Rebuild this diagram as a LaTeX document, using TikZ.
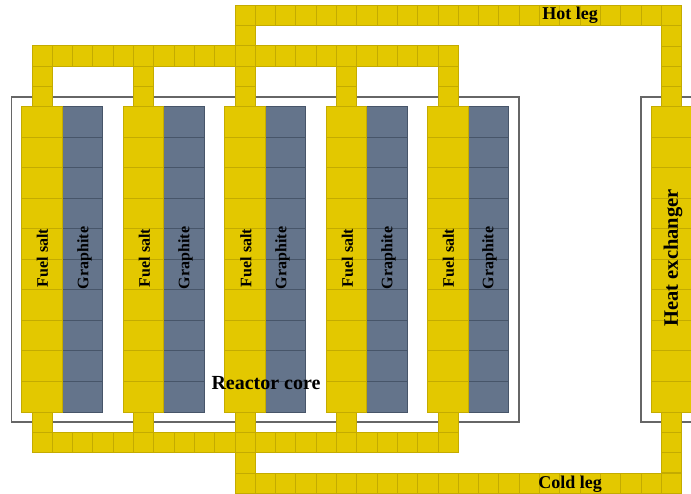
\documentclass[tikz,border=0pt]{standalone}
\usepackage{fontspec}
\setmainfont{Liberation Serif}
\tikzset{
  pipecell/.style={draw=pipeedge, fill=pipefill, line width=1pt},
  saltcell/.style={draw=pipeedge, fill=pipefill, line width=1pt},
  graphcell/.style={draw=graphedge, fill=graphfill, line width=1pt},
  housing/.style={draw=black!60, line width=1.2pt},
  smalllabel/.style={font=\fontsize{16}{17}\selectfont\bfseries, rotate=90, inner sep=0pt},
  leglabel/.style={font=\fontsize{18}{19}\selectfont\bfseries, inner sep=0pt}
}
\definecolor{pipefill}{HTML}{E3C800}
\definecolor{pipeedge}{HTML}{C4AB00}
\definecolor{graphfill}{HTML}{64748B}
\definecolor{graphedge}{HTML}{475569}
\begin{document}
\begin{tikzpicture}[x=1pt, y=-1pt]
    \useasboundingbox (0,0) rectangle (691,494);
    \clip (0,0) rectangle (691,494);

    % --- Housings ---
    \draw [housing] (11.5,97) rectangle (519,422);
    \draw [housing] (641,97) rectangle (720,422);

    % --- Hot leg and cold leg ---
    \foreach \i in {0,...,21} {
        \draw [pipecell] ({235+20.3*\i},5.5) rectangle ++(20.3,20.3);
        \draw [pipecell] ({235+20.3*\i},473) rectangle ++(20.3,20.3);
    }
    \foreach \i in {0,...,3}
        \draw [pipecell] (661.6,{25.8+20.3*\i}) rectangle ++(20.3,20.3);
    \foreach \i in {0,1,2}
        \draw [pipecell] (661.6,{412+20.3*\i}) rectangle ++(20.3,20.3);
    \draw [pipecell] (235,25.8) rectangle ++(20.3,20.3);
    \draw [pipecell] (235,452.7) rectangle ++(20.3,20.3);

    % --- Upper and lower headers ---
    \foreach \i in {0,...,20} {
        \draw [pipecell] ({32+20.3*\i},46) rectangle ++(20.3,20.3);
        \draw [pipecell] ({32+20.3*\i},432.4) rectangle ++(20.3,20.3);
    }

    % --- Channels ---
    \foreach \c in {0,...,4} {
        \draw [pipecell] ({32+101.5*\c},66.3) rectangle ++(20.3,20.3);
        \draw [pipecell] ({32+101.5*\c},86.6) rectangle ++(20.3,20.4);
        \draw [pipecell] ({32+101.5*\c},412) rectangle ++(20.3,20.4);
        \foreach \r in {0,...,9} {
            \draw [graphcell] ({62.1+101.5*\c},{107+30.5*\r}) rectangle ++(40.6,30.5);
            \draw [saltcell] ({21.5+101.5*\c},{107+30.5*\r}) rectangle ++(40.6,30.5);
        }
    }

    % --- Heat exchanger ---
    \foreach \r in {0,...,9}
        \draw [saltcell] (651,{107+30.5*\r}) rectangle ++(60,30.5);

    % --- Labels ---
    \node (salta) [smalllabel] at (42.5,258) {Fuel salt};
    \node (graphitea) [smalllabel] at (84.5,258) {Graphite};
    \node (saltb) [smalllabel] at (144.5,258) {Fuel salt};
    \node (graphiteb) [smalllabel] at (185.5,258) {Graphite};
    \node (saltc) [smalllabel] at (246,258) {Fuel salt};
    \node (graphitec) [smalllabel] at (282.5,258) {Graphite};
    \node (saltd) [smalllabel] at (347.5,258) {Fuel salt};
    \node (graphited) [smalllabel] at (388.5,258) {Graphite};
    \node (salte) [smalllabel] at (448.5,258) {Fuel salt};
    \node (graphitee) [smalllabel] at (489.5,258) {Graphite};
    \node (core) [font=\fontsize{20}{21}\selectfont\bfseries, inner sep=0pt] at (266,383) {Reactor core};
    \node (hot) [leglabel] at (570,15.5) {Hot leg};
    \node (cold) [leglabel] at (570,484) {Cold leg};
    \node (exchanger) [font=\fontsize{20.5}{21}\selectfont\bfseries, rotate=90, inner sep=0pt] at (673,258) {Heat exchanger};
\end{tikzpicture}
\end{document}
